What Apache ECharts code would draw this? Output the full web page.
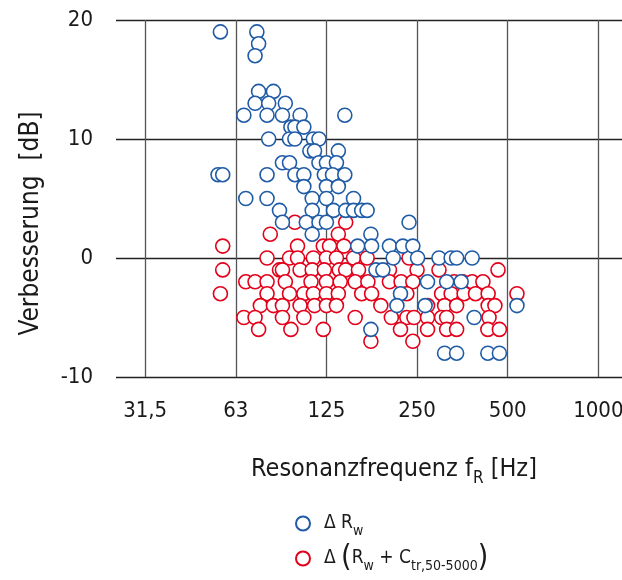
<!DOCTYPE html>
<html>
<head>
<meta charset="utf-8">
<script src="https://cdn.jsdelivr.net/npm/echarts@6/dist/echarts.min.js"></script>
<style>
  html, body { margin: 0; padding: 0; background: #fff; overflow: hidden; }
  #chart { width: 622px; height: 580px; }
</style>
</head>
<body>
<div id="chart"></div>
<script>
// [Resonanzfrequenz Hz, Verbesserung dB]
const rwPoints = [
  [56, 19], [74, 19], [75, 18], [73, 17],
  [75, 14], [84, 14],
  [73, 13], [81, 13], [92, 13],
  [67, 12], [80, 12], [90, 12], [103, 12], [145, 12],
  [96, 11], [99, 11], [106, 11],
  [81, 10], [95, 10], [99, 10], [114, 10], [119, 10],
  [111, 9], [115, 9], [138, 9],
  [90, 8], [95, 8], [119, 8], [126, 8], [136, 8],
  [55, 7], [57, 7], [80, 7], [99, 7], [106, 7], [124, 7], [132, 7], [145, 7],
  [106, 6], [126, 6], [138, 6],
  [68, 5], [80, 5], [113, 5], [126, 5], [155, 5],
  [88, 4], [113, 4], [133, 4], [146, 4], [155, 4], [165, 4], [172, 4],
  [90, 3], [108, 3], [119, 3], [126, 3], [237, 3],
  [113, 2], [177, 2],
  [160, 1], [178, 1], [204, 1], [226, 1], [244, 1],
  [210, 0], [253, 0], [298, 0], [327, 0], [341, 0], [384, 0],
  [184, -1], [194, -1],
  [273, -2], [316, -2], [353, -2],
  [222, -3],
  [216, -4], [268, -4], [541, -4],
  [390, -5],
  [177, -6],
  [311, -8], [341, -8], [433, -8], [473, -8]
];

const ctrPoints = [
  [99, 3], [146, 3],
  [82, 2], [138, 2],
  [57, 1], [101, 1], [123, 1], [129, 1], [144, 1],
  [80, 0], [95, 0], [101, 0], [114, 0], [126, 0], [136, 0], [155, 0], [172, 0], [237, 0],
  [57, -1], [88, -1], [90, -1], [103, -1], [113, -1], [124, -1], [139, -1], [146, -1],
  [161, -1], [204, -1], [252, -1], [298, -1], [468, -1],
  [68, -2], [73, -2], [80, -2], [92, -2], [112, -2], [126, -2], [140, -2], [157, -2],
  [173, -2], [204, -2], [223, -2], [244, -2], [335, -2], [357, -2], [384, -2], [417, -2],
  [56, -3], [80, -3], [95, -3], [106, -3], [114, -3], [126, -3], [138, -3], [165, -3],
  [178, -3], [233, -3], [304, -3], [327, -3], [361, -3], [394, -3], [434, -3], [541, -3],
  [76, -4], [84, -4], [90, -4], [103, -4], [115, -4], [126, -4], [136, -4], [191, -4],
  [273, -4], [311, -4], [341, -4], [434, -4], [457, -4],
  [67, -5], [73, -5], [90, -5], [106, -5], [157, -5], [207, -5], [233, -5], [246, -5],
  [273, -5], [304, -5], [316, -5], [437, -5],
  [75, -6], [96, -6], [123, -6], [222, -6], [273, -6], [316, -6], [341, -6], [433, -6], [473, -6],
  [177, -7], [244, -7]
];

const tickLabels = ['31,5', '63', '125', '250', '500', '1000'];
const baseFreq = 31.5;
const freqRange = [25.2, 1208];

const font = "'Liberation Sans Narrow', 'DejaVu Sans Condensed', 'Liberation Sans', sans-serif";
const blue = '#1f5ba6';
const red = '#e2001a';

// octaves above 31,5 Hz
function oct(f) {
  return Math.log2(f / baseFreq);
}

const chart = echarts.init(document.getElementById('chart'));

chart.setOption({
  animation: false,
  textStyle: { fontFamily: font, color: '#1a1a1a' },
  grid: { left: 116, right: 0, top: 20, bottom: 203, containLabel: false, outerBoundsMode: 'none' },
  xAxis: {
    type: 'value',
    min: oct(freqRange[0]),
    max: oct(freqRange[1]),
    axisLine: { show: false },
    axisTick: { show: false, customValues: tickLabels.map((_, i) => i) },
    axisLabel: {
      customValues: tickLabels.map((_, i) => i),
      formatter: (v) => tickLabels[Math.round(v)],
      fontSize: 22,
      color: '#1a1a1a',
      margin: 23,
      hideOverlap: false
    },
    splitLine: { show: true, lineStyle: { color: '#555', width: 1.3 } },
    name: '{t|Resonanzfrequenz f}{s|R}{t| [Hz]}',
    nameLocation: 'middle',
    nameGap: 74,
    nameTextStyle: {
      padding: [0, 0, 0, 50],
      rich: {
        t: { fontSize: 25, lineHeight: 36, fontFamily: font, color: '#1a1a1a' },
        s: { fontSize: 17, lineHeight: 17, verticalAlign: 'bottom', fontFamily: font, color: '#1a1a1a' }
      }
    }
  },
  yAxis: {
    type: 'value',
    min: -10,
    max: 20,
    interval: 10,
    axisLine: { show: false },
    axisTick: { show: false },
    axisLabel: { fontSize: 22, color: '#1a1a1a', margin: 23 },
    splitLine: { lineStyle: { color: '#222', width: 1.3 } },
    name: 'Verbesserung  [dB]',
    nameLocation: 'middle',
    nameGap: 72,
    nameTextStyle: { fontSize: 26, color: '#1a1a1a', padding: [0, 50, 0, 0] }
  },
  legend: {
    orient: 'vertical',
    left: 295,
    top: 514,
    padding: 0,
    itemGap: 5,
    itemWidth: 14,
    itemHeight: 14,
    icon: 'circle',
    data: ['rw', 'ctr'],
    formatter: (name) => name === 'rw'
      ? '{g|}{t|Δ R}{s|w}'
      : '{g|}{t|Δ }{p|(}{t|R}{s|w}{t| + C}{s|tr,50-5000}{p|)}',
    textStyle: {
      rich: {
        g: { width: 9 },
        t: { fontSize: 19, lineHeight: 30, fontFamily: font, color: '#1a1a1a' },
        s: { fontSize: 14, lineHeight: 12, verticalAlign: 'bottom', fontFamily: font, color: '#1a1a1a' },
        p: { fontSize: 30, lineHeight: 30, fontFamily: font, color: '#1a1a1a' }
      }
    }
  },
  series: [
    {
      name: 'ctr',
      type: 'scatter',
      z: 2,
      symbol: 'circle',
      symbolSize: 14,
      itemStyle: { color: '#fff', borderColor: red, borderWidth: 1.6, opacity: 1 },
      data: ctrPoints.map((p) => [oct(p[0]), p[1]])
    },
    {
      name: 'rw',
      type: 'scatter',
      z: 3,
      symbol: 'circle',
      symbolSize: 14,
      itemStyle: { color: '#fff', borderColor: blue, borderWidth: 1.6, opacity: 1 },
      data: rwPoints.map((p) => [oct(p[0]), p[1]])
    }
  ]
});
</script>
</body>
</html>
